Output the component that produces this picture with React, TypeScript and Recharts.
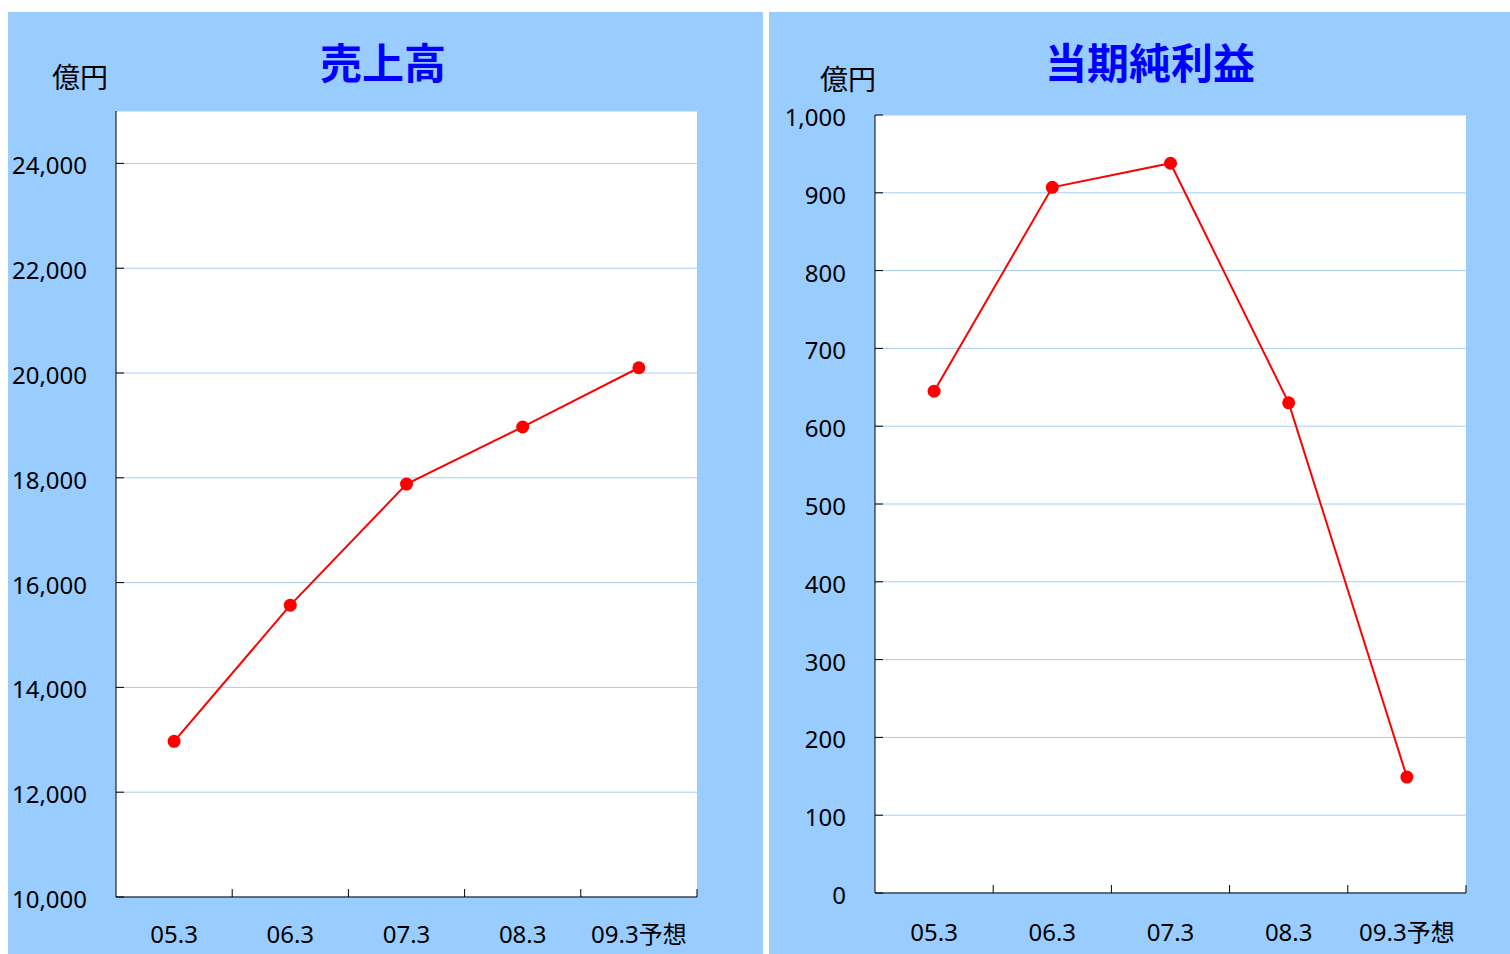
import React from "react";
import { LineChart, Line, XAxis, YAxis, CartesianGrid } from "recharts";

const categories = ["05.3", "06.3", "07.3", "08.3", "09.3予想"];
const salesValues = [12970, 15570, 17880, 18970, 20100];
const profitValues = [645, 907, 938, 630, 149];
const salesTicks = [10000, 12000, 14000, 16000, 18000, 20000, 22000, 24000];
const profitTicks = [0, 100, 200, 300, 400, 500, 600, 700, 800, 900, 1000];

const salesData = categories.map((c, i) => ({ cat: c, v: salesValues[i] }));
const profitData = categories.map((c, i) => ({ cat: c, v: profitValues[i] }));

const FONT = "'Noto Sans','Noto Sans CJK JP',sans-serif";
const CJK = "'Noto Sans CJK JP','Noto Sans',sans-serif";
const BG = "#99CCFF";
const GRID = "#A6CCF2";

const fmt = (n: number) => n.toLocaleString("en-US");

const YTick = (props: any) => {
  const { x, y, payload } = props;
  return (
    <g>
      <line x1={x} x2={x + 8} y1={y} y2={y} stroke="#000" strokeWidth={1} />
      <text x={x - 29} y={y + 11} textAnchor="end" fontSize={24} fontFamily={FONT} fill="#000">
        {fmt(payload.value)}
      </text>
    </g>
  );
};

const makeXTick = (labelDy: number) => (props: any) => {
  const { x, y, payload, width, visibleTicksCount } = props;
  let off = payload && typeof payload.offset === "number" && payload.offset > 5 ? payload.offset : width / visibleTicksCount / 2;
  return (
    <g>
      <line x1={x + off} x2={x + off} y1={y} y2={y - 8} stroke="#000" strokeWidth={1} />
      <text x={x} y={y + labelDy} textAnchor="middle" fontSize={24} fontFamily={FONT} fill="#000">
        {payload.value}
      </text>
    </g>
  );
};

type PanelProps = {
  left: number;
  width: number;
  title: string;
  titleX: number;
  unitX: number;
  unitY: number;
  data: { cat: string; v: number }[];
  domain: [number, number];
  ticks: number[];
  yAxisWidth: number;
  marginTop: number;
  marginRight: number;
  xAxisHeight: number;
  labelDy: number;
};

const Panel = (p: PanelProps) => {
  const H = 942;
  return (
    <div style={{ position: "absolute", left: p.left, top: 12, width: p.width, height: H, background: BG }}>
      <LineChart
        width={p.width}
        height={H}
        data={p.data}
        margin={{ top: p.marginTop, right: p.marginRight, bottom: 0, left: 0 }}
      >
        <CartesianGrid fill="#FFFFFF" stroke={GRID} vertical={false} strokeWidth={1} />
        <XAxis
          dataKey="cat"
          type="category"
          scale="band"
          height={p.xAxisHeight}
          interval={0}
          tickSize={0}
          tickMargin={0}
          axisLine={{ stroke: "#000", strokeWidth: 1 }}
          tickLine={false}
          tick={makeXTick(p.labelDy)}
        />
        <YAxis
          type="number"
          domain={p.domain}
          ticks={p.ticks}
          interval={0}
          width={p.yAxisWidth}
          tickSize={0}
          tickMargin={0}
          allowDataOverflow
          axisLine={{ stroke: "#000", strokeWidth: 1 }}
          tickLine={false}
          tick={<YTick />}
        />
        <Line
          dataKey="v"
          type="linear"
          stroke="#FF0000"
          strokeWidth={2}
          dot={{ r: 6.5, fill: "#FF0000", stroke: "none", strokeWidth: 0 }}
          activeDot={false}
          isAnimationActive={false}
        />
      </LineChart>
      <svg
        width={p.width}
        height={H}
        style={{ position: "absolute", left: 0, top: 0, pointerEvents: "none" }}
      >
        <text x={p.titleX} y={67} textAnchor="middle" fontSize={42} fontWeight="bold" fontFamily={CJK} fill="#0000FF">
          {p.title}
        </text>
        <text x={p.unitX} y={p.unitY} textAnchor="middle" fontSize={28} fontFamily={CJK} fill="#000">
          億円
        </text>
      </svg>
    </div>
  );
};

export default function App() {
  return (
    <div style={{ position: "fixed", left: 0, top: 0, width: 1510, height: 954, overflow: "hidden", background: "#FFFFFF" }}>
      <Panel
        left={8}
        width={755}
        title="売上高"
        titleX={375}
        unitX={72}
        unitY={76}
        data={salesData}
        domain={[10000, 25000]}
        ticks={salesTicks}
        yAxisWidth={108}
        marginTop={99}
        marginRight={66}
        xAxisHeight={57}
        labelDy={46}
      />
      <Panel
        left={769}
        width={741}
        title="当期純利益"
        titleX={381}
        unitX={79}
        unitY={78}
        data={profitData}
        domain={[0, 1000]}
        ticks={profitTicks}
        yAxisWidth={106}
        marginTop={103}
        marginRight={44}
        xAxisHeight={61}
        labelDy={48}
      />
    </div>
  );
}
